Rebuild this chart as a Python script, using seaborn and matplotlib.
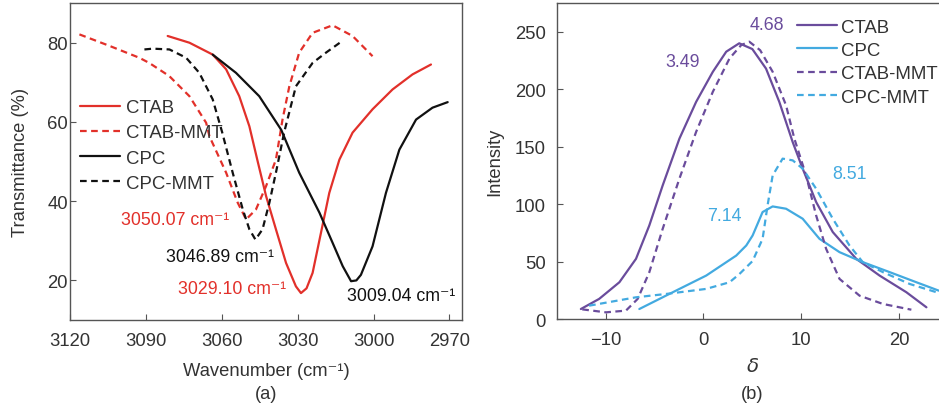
import numpy as np
import pandas as pd
import matplotlib
matplotlib.use('Agg')
import matplotlib.pyplot as plt
import seaborn as sns

# === Panel (a): FTIR spectra (wavenumber, transmittance) ===
ctab_x = [3081.4, 3072.8, 3063.6, 3058.3, 3053.1, 3049.1, 3045.8, 3042.5, 3038.6, 3034.6,
          3030.7, 3028.7, 3026.5, 3024.1, 3020.8, 3017.5, 3013.5, 3008.3, 3000.4, 2992.5,
          2984.6, 2977.3]
ctab_y = [81.7, 80.0, 77.0, 73.3, 66.5, 58.9, 50.0, 41.3, 32.9, 24.4,
          18.5, 16.8, 18.0, 21.9, 32.0, 42.1, 50.5, 57.3, 63.2, 68.2,
          72.0, 74.5]

ctab_mmt_x = [3116.3, 3104.4, 3092.6, 3088.7, 3080.8, 3072.8, 3066.2, 3064.9, 3058.3, 3053.7,
              3050.4, 3046.5, 3042.5, 3038.6, 3036.0, 3033.3, 3029.4, 3024.1, 3016.2, 3008.3, 3000.4]
ctab_mmt_y = [82.1, 79.2, 76.2, 74.9, 71.6, 66.5, 59.8, 56.4, 47.2, 39.6,
              35.4, 37.9, 43.8, 50.5, 60.6, 69.0, 77.5, 82.5, 84.4, 81.7, 76.6]

cpc_x = [3063.6, 3054.4, 3045.2, 3036.5, 3029.4, 3021.4, 3016.2, 3012.2, 3008.9, 3006.8,
         3005.0, 3000.4, 2995.1, 2989.8, 2983.2, 2976.7, 2970.7]
cpc_y = [77.0, 72.4, 66.5, 58.0, 47.2, 37.1, 29.5, 23.6, 19.8, 20.0,
         21.4, 28.6, 42.1, 53.0, 60.6, 63.6, 65.0]

cpc_mmt_x = [3090.6, 3087.3, 3080.7, 3074.1, 3068.9, 3063.6, 3059.9, 3055.7, 3051.7, 3049.1,
             3046.7, 3043.9, 3041.2, 3038.6, 3035.3, 3030.7, 3024.1, 3018.8, 3012.9]
cpc_mmt_y = [78.3, 78.5, 78.3, 76.2, 72.4, 65.7, 57.5, 47.2, 37.9, 32.9,
             30.3, 32.9, 39.6, 47.2, 57.5, 69.0, 74.9, 77.5, 80.2]

peak_labels_a = ['3050.07 cm⁻¹', '3046.89 cm⁻¹', '3029.10 cm⁻¹', '3009.04 cm⁻¹']
peak_pos_a = [(3078.4, 35.4), (3060.6, 26.1), (3055.8, 17.9), (2989.1, 16.2)]

# === Panel (b): intensity vs delta ===
b_ctab_x = [-12.54, -10.67, -8.6, -6.9, -5.54, -4.17, -2.46, -0.75, 0.96, 2.33, 3.66,
            5.0, 6.4, 7.76, 9.13, 10.15, 11.53, 13.23, 15.63, 18.02, 20.76, 22.81]
b_ctab_y = [8.7, 17.5, 32.0, 52.4, 81.4, 116.3, 157.0, 189.0, 215.2, 232.7, 240.0,
            235.0, 218.0, 189.0, 154.0, 130.9, 101.8, 75.7, 52.4, 37.8, 23.3, 10.2]

b_ctab_mmt_x = [-12.4, -9.98, -7.93, -6.73, -5.54, -4.17, -2.46, -0.75, 0.96, 2.67, 3.87,
                4.69, 5.8, 7.08, 8.45, 9.3, 10.5, 11.53, 12.55, 13.92, 15.97, 18.36, 21.27]
b_ctab_mmt_y = [8.4, 5.8, 7.3, 17.5, 40.7, 78.5, 122.2, 162.9, 197.8, 226.9, 238.5,
                241.4, 234.0, 215.2, 186.0, 157.0, 125.0, 90.1, 61.1, 34.9, 20.3, 13.1, 8.1]

b_cpc_x = [-6.56, -3.14, 0.28, 3.35, 4.38, 5.03, 6.05, 7.08, 8.45, 10.15, 11.87,
           13.92, 16.3, 19.05, 21.78, 24.07]
b_cpc_y = [8.7, 23.3, 37.8, 55.2, 64.0, 72.7, 93.1, 98.0, 96.0, 87.3, 69.8,
           58.2, 49.5, 40.8, 32.0, 24.7]

b_cpc_mmt_x = [-11.7, -6.9, -3.83, 0.28, 2.67, 3.66, 5.03, 6.05, 6.56, 7.08, 8.1,
               9.13, 10.15, 11.53, 13.23, 14.94, 16.3, 18.36, 21.1, 24.07]
b_cpc_mmt_y = [11.6, 18.9, 21.8, 26.2, 32.0, 39.0, 50.5, 69.8, 98.9, 125.0, 139.6,
               138.1, 130.9, 113.4, 87.3, 64.0, 49.5, 40.8, 30.5, 22.7]

peak_labels_b = ['4.68', '3.49', '8.51', '7.14']
peak_pos_b = [(6.47, 256.4), (-2.15, 223.8), (14.9, 126.5), (2.1, 90.1)]

# === Style ===
sns.set_theme(style='ticks')
plt.rcParams['font.family'] = ['Liberation Sans', 'DejaVu Sans']
plt.rcParams['axes.edgecolor'] = '#555555'
plt.rcParams['text.color'] = '#333333'
plt.rcParams['axes.labelcolor'] = '#333333'
plt.rcParams['xtick.color'] = '#555555'
plt.rcParams['ytick.color'] = '#555555'
plt.rcParams['xtick.labelcolor'] = '#333333'
plt.rcParams['ytick.labelcolor'] = '#333333'

red = '#e2302a'
black = '#111111'
purple = '#6a4c9c'
blue = '#43aae0'
dash = (0, (3, 2))
lw = 1.6
fs_tick = 13.3
fs_leg = 13.4
fs_lab = 13.2
fs_ann = 12.8

fig = plt.figure(figsize=(9.39, 4.10), dpi=100)
ax1 = fig.add_axes([0.0746, 0.217, 0.4175, 0.773])
ax2 = fig.add_axes([0.593, 0.2195, 0.4164, 0.7705])

# --- Panel (a) ---
series_a = [
    ('CTAB', ctab_x, ctab_y, red, '-'),
    ('CTAB-MMT', ctab_mmt_x, ctab_mmt_y, red, dash),
    ('CPC', cpc_x, cpc_y, black, '-'),
    ('CPC-MMT', cpc_mmt_x, cpc_mmt_y, black, dash),
]
for name, xs, ys, c, ls in series_a:
    df = pd.DataFrame({'x': xs, 'y': ys})
    sns.lineplot(data=df, x='x', y='y', ax=ax1, color=c, linestyle=ls, lw=lw,
                 label=name, estimator=None, sort=False)

ax1.set_xlim(3120, 2965)
ax1.set_ylim(10, 90)
ax1.set_xticks([3120, 3090, 3060, 3030, 3000, 2970])
ax1.set_yticks([20, 40, 60, 80])
ax1.set_xlabel('Wavenumber (cm⁻¹)', fontsize=fs_lab, labelpad=9.5)
ax1.set_ylabel('Transmittance (%)', fontsize=fs_lab, labelpad=13)
ax1.legend(loc='upper left', bbox_to_anchor=(0.0255, 0.697), frameon=False, fontsize=fs_leg,
           handlelength=2.15, labelspacing=0.44, handletextpad=0.32,
           borderaxespad=0, borderpad=0)

colors_a = [red, black, red, black]
for txt, (px, py), c in zip(peak_labels_a, peak_pos_a, colors_a):
    ax1.text(px, py, txt, color=c, fontsize=fs_ann, ha='center', va='center')

# --- Panel (b) ---
series_b = [
    ('CTAB', b_ctab_x, b_ctab_y, purple, '-'),
    ('CPC', b_cpc_x, b_cpc_y, blue, '-'),
    ('CTAB-MMT', b_ctab_mmt_x, b_ctab_mmt_y, purple, dash),
    ('CPC-MMT', b_cpc_mmt_x, b_cpc_mmt_y, blue, dash),
]
for name, xs, ys, c, ls in series_b:
    df = pd.DataFrame({'x': xs, 'y': ys})
    sns.lineplot(data=df, x='x', y='y', ax=ax2, color=c, linestyle=ls, lw=lw,
                 label=name, estimator=None, sort=False)

ax2.set_xlim(-15, 25)
ax2.set_ylim(0, 275)
ax2.set_xticks([-10, 0, 10, 20])
ax2.set_xticklabels(['−10', '0', '10', '20'])
ax2.set_yticks([0, 50, 100, 150, 200, 250])
ax2.set_xlabel('$\\delta$', fontsize=fs_lab + 1, labelpad=6)
ax2.set_ylabel('Intensity', fontsize=fs_lab, labelpad=8)
ax2.legend(loc='upper left', bbox_to_anchor=(0.613, 0.951), frameon=False, fontsize=fs_leg,
           handlelength=2.15, labelspacing=0.34, handletextpad=0.25,
           borderaxespad=0, borderpad=0)

colors_b = [purple, purple, blue, blue]
for txt, (px, py), c in zip(peak_labels_b, peak_pos_b, colors_b):
    ax2.text(px, py, txt, color=c, fontsize=fs_ann, ha='center', va='center')

for ax in (ax1, ax2):
    ax.tick_params(direction='in', length=4, width=0.8, labelsize=fs_tick)
    ax.tick_params(axis='x', pad=8.6)
    for s in ax.spines.values():
        s.set_linewidth(1.0)
ax1.tick_params(axis='y', pad=1.5)
ax2.tick_params(axis='y', pad=8)

# panel letters
fig.text(266 / 939, 1 - 395 / 410, '(a)', fontsize=fs_lab, ha='center', va='center')
fig.text(752 / 939, 1 - 395 / 410, '(b)', fontsize=fs_lab, ha='center', va='center')

fig.savefig('out.png', dpi=100)
